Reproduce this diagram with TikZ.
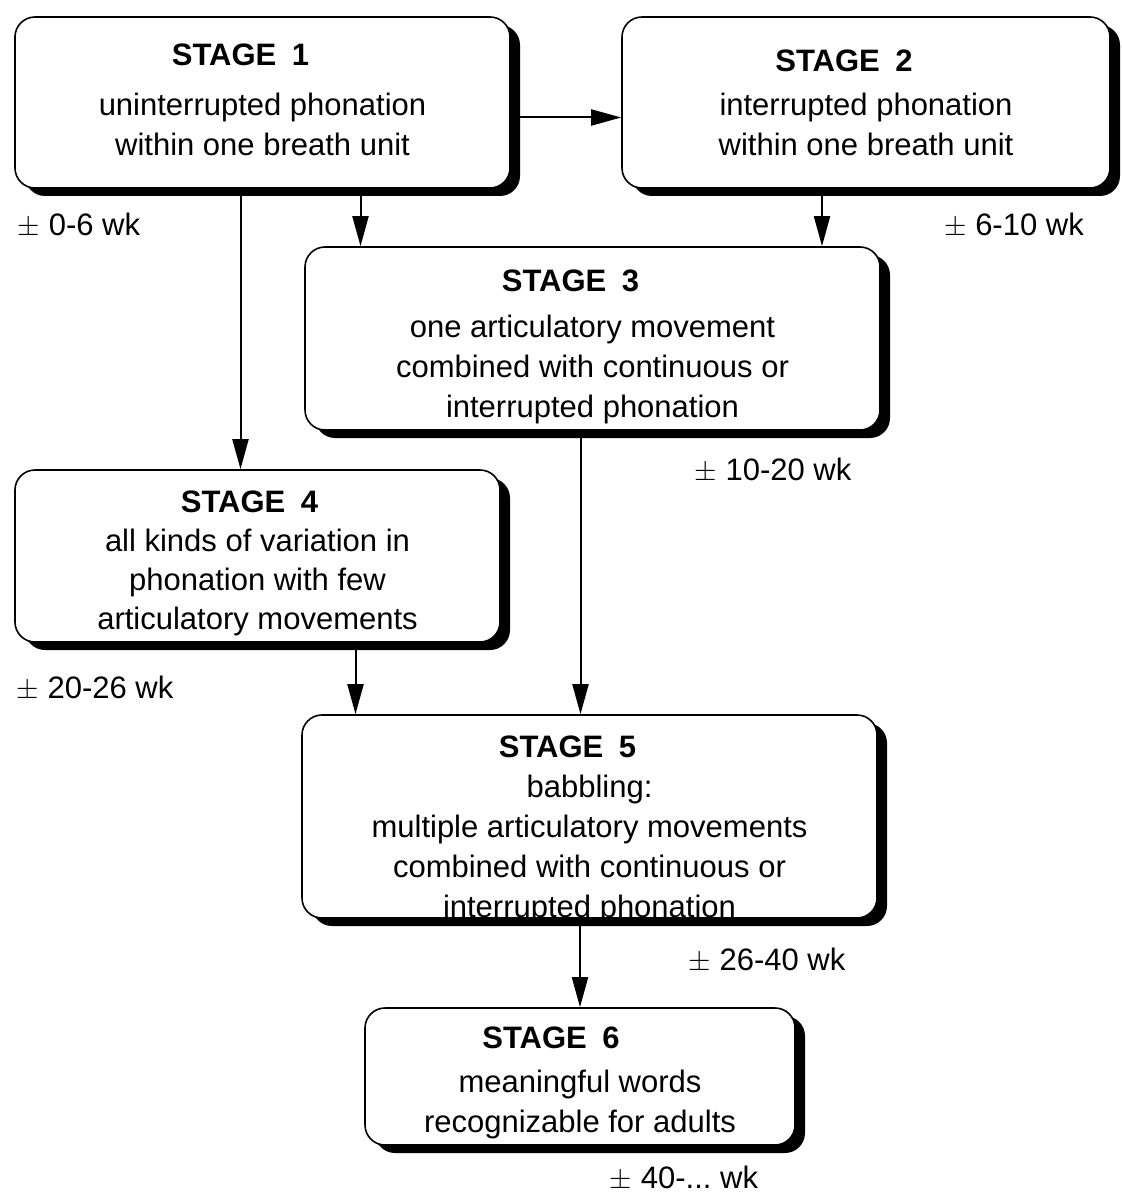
\documentclass[tikz,border=0pt]{standalone}
\usepackage{fontspec}
\setmainfont{Liberation Sans}
\usepackage{tikz}
\usetikzlibrary{arrows.meta,shadows}
\tikzstyle{stage}=[draw,line width=0.8pt,fill=white,rounded corners=10pt,inner sep=0pt,
  drop shadow={shadow xshift=5pt,shadow yshift=-4pt,fill=black,opacity=1}]
\tikzstyle{body}=[align=center,inner sep=0pt,font=\fontsize{15.5}{20}\selectfont]
\tikzstyle{age}=[inner sep=0pt,font=\fontsize{15.5}{20}\selectfont]
\tikzstyle{flow}=[draw,line width=1pt,-{Triangle[length=15pt,width=8pt]}]
\newcommand{\stagehead}[1]{\textbf{STAGE\enspace#1}\hspace*{22pt}}
\newcommand{\onwards}{...}

\begin{document}
\begin{tikzpicture}[x=0.5pt,y=-0.5pt]
    \useasboundingbox (0,0) rectangle (1122,1192);
    % First we draw the stage boxes
    \node[stage,minimum width=247.5pt,minimum height=85.5pt] (s1) at (262.5,102.5) {};
    \node[stage,minimum width=244pt,minimum height=85.5pt] (s2) at (866,102.5) {};
    \node[stage,minimum width=287.5pt,minimum height=91.5pt] (s3) at (592.5,338.5) {};
    \node[stage,minimum width=242.5pt,minimum height=86pt] (s4) at (257.5,556) {};
    \node[stage,minimum width=287.5pt,minimum height=101.5pt] (s5) at (589.5,816.5) {};
    \node[stage,minimum width=215pt,minimum height=68.5pt] (s6) at (580,1076.5) {};
    % Then the texts inside them
    \node[body] (t1) at ([yshift=1.5pt]s1.center)
        {\stagehead{1}\\[5pt] uninterrupted phonation\\ within one breath unit};
    \node[body] (t2) at (s2.center)
        {\stagehead{2}\\[2pt] interrupted phonation\\ within one breath unit};
    \node[body] (t3) at ([yshift=-4pt]s3.center)
        {\stagehead{3}\\[3pt] one articulatory movement\\ combined with continuous or\\ interrupted phonation};
    \node[body,font=\fontsize{15.5}{19.5}\selectfont] (t4) at ([yshift=-3.5pt]s4.center)
        {\textbf{STAGE\enspace 4}\hspace*{8pt}\\ all kinds of variation in\\ phonation with few\\ articulatory movements};
    \node[body] (t5) at ([yshift=-6.5pt]s5.center)
        {\stagehead{5}\\ babbling:\\ multiple articulatory movements\\ combined with continuous or\\ interrupted phonation};
    \node[body] (t6) at ([yshift=-3pt]s6.center)
        {\textbf{STAGE\enspace 6}\hspace*{29pt}\\[2pt] meaningful words\\ recognizable for adults};
    % Ages next to the stages
    \foreach \pos/\name/\txt in {{(79,225)/a1/0-6}, {(1014,225)/a2/6-10}, {(773,470)/a3/10-20},
        {(95,688)/a4/20-26}, {(767,960)/a5/26-40}, {(684,1178)/a6/40-\onwards}}
        \node[age] (\name) at \pos {$\pm$ \txt\ wk};
    % Connect stages with arrows
    \path[flow] ([yshift=-7.5pt]s1.east) -- ([yshift=-7.5pt]s2.west);
    \path (s1.south) ++(49pt,0) coordinate (c13);
    \path[flow] (c13) -- (c13 |- s3.north);
    \path (s1.south) ++(-11pt,0) coordinate (c14);
    \path[flow] (c14) -- (c14 |- s4.north);
    \path (s2.south) ++(-22pt,0) coordinate (c23);
    \path[flow] (c23) -- (c23 |- s3.north);
    \path (s3.south) ++(-6pt,0) coordinate (c35);
    \path[flow] (c35) -- (c35 |- s5.north);
    \path (s4.south) ++(49pt,0) coordinate (c45);
    \path[flow] (c45) -- (c45 |- s5.north);
    \path[flow] (s5.south -| s6.north) -- (s6.north);
\end{tikzpicture}
\end{document}
